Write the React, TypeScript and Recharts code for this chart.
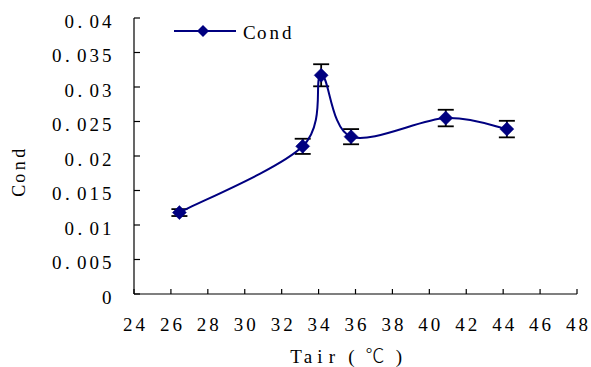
import React from "react";
import { LineChart, Line, XAxis, YAxis, ErrorBar } from "recharts";

const tair = [26.46, 33.14, 34.14, 35.76, 40.89, 44.2];
const cond = [0.0118, 0.0214, 0.0317, 0.0228, 0.0255, 0.0239];
const condErr = [0.0005, 0.0011, 0.0016, 0.0011, 0.0012, 0.0012];

const xTicks = [24, 26, 28, 30, 32, 34, 36, 38, 40, 42, 44, 46, 48];
const yTicks = [0, 0.005, 0.01, 0.015, 0.02, 0.025, 0.03, 0.035, 0.04];
const yTickLabels = ["0", "0.005", "0.01", "0.015", "0.02", "0.025", "0.03", "0.035", "0.04"];

const seriesName = "Cond";
const xTitle = "Tair(℃)";
const yTitle = "Cond";

const data = tair.map((t, i) => ({ tair: t, cond: cond[i], err: condErr[i] }));

const NAVY = "#000080";
const FONT = "'Liberation Serif', 'Noto Sans CJK SC', serif";
const FS = 19;
const PITCH = 12.5;

// Monospaced-looking text: each character placed in a fixed-width cell
const MonoText = (props: any) => {
  const { x, y, anchor = "start", text, pitch = PITCH, widths, sizes, weights, fontSize = FS, transform } = props;
  const chars = Array.from(String(text));
  const w = chars.map((c: string, i: number) => (widths && widths[i] != null ? widths[i] : pitch));
  const total = w.reduce((a: number, b: number) => a + b, 0);
  let start = anchor === "end" ? x - total : anchor === "middle" ? x - total / 2 : x;
  const xs: number[] = [];
  for (let i = 0; i < chars.length; i++) {
    const off = chars[i] === "." ? -2 : 0;
    xs.push(start + w[i] / 2 + off);
    start += w[i];
  }
  return (
    <text
      y={y}
      transform={transform}
      textAnchor="middle"
      dominantBaseline="central"
      fontFamily={FONT}
      fontSize={fontSize}
      fill="#000"
    >
      {chars.map((c: string, i: number) => (
        <tspan
          key={i}
          x={xs[i]}
          y={y}
          fontSize={sizes && sizes[i] != null ? sizes[i] : undefined}
          fontWeight={weights && weights[i] != null ? weights[i] : undefined}
        >
          {c}
        </tspan>
      ))}
    </text>
  );
};

// Excel-like smoothed curve (uniform Catmull-Rom as cubic Bezier)
const excelCurve = (ctx: any) => {
  let pts: [number, number][] = [];
  return {
    areaStart() {},
    areaEnd() {},
    lineStart() {
      pts = [];
    },
    point(x: number, y: number) {
      pts.push([+x, +y]);
    },
    lineEnd() {
      const n = pts.length;
      if (!n) return;
      ctx.moveTo(pts[0][0], pts[0][1]);
      for (let i = 0; i < n - 1; i++) {
        const p0 = pts[Math.max(i - 1, 0)];
        const p1 = pts[i];
        const p2 = pts[i + 1];
        const p3 = pts[Math.min(i + 2, n - 1)];
        ctx.bezierCurveTo(
          p1[0] + (p2[0] - p0[0]) / 6,
          p1[1] + (p2[1] - p0[1]) / 6,
          p2[0] - (p3[0] - p1[0]) / 6,
          p2[1] - (p3[1] - p1[1]) / 6,
          p2[0],
          p2[1]
        );
      }
    },
  };
};

const Diamond = (props: any) => {
  const { cx, cy } = props;
  if (cx == null || cy == null) return null;
  const w = 7, h = 7;
  return (
    <polygon
      points={`${cx - w},${cy} ${cx},${cy - h} ${cx + w},${cy} ${cx},${cy + h}`}
      fill={NAVY}
      stroke={NAVY}
      strokeWidth={0.5}
    />
  );
};

const XTick = (props: any) => {
  const { x, y, payload } = props;
  return (
    <g>
      <line x1={x} x2={x} y1={y} y2={y - 5} stroke="#000" strokeWidth={1.2} />
      <MonoText x={x} y={y + 30} anchor="middle" text={String(payload.value)} />
    </g>
  );
};

const YTick = (props: any) => {
  const { x, y, payload } = props;
  const idx = yTicks.indexOf(payload.value);
  const label = idx >= 0 ? yTickLabels[idx] : String(payload.value);
  return (
    <g>
      <line x1={x} x2={x + 6} y1={y} y2={y} stroke="#000" strokeWidth={1.2} />
      <MonoText x={x - 21} y={y + 2.5} anchor="end" text={label} />
    </g>
  );
};

export default function App() {
  return (
    <div style={{ position: "absolute", left: 0, top: 0, width: 591, height: 367, background: "#fff" }}>
      <LineChart width={591} height={367} data={data} margin={{ top: 18, right: 14, bottom: 0, left: 0 }}>
        <XAxis
          dataKey="tair"
          type="number"
          domain={[24, 48]}
          ticks={xTicks}
          interval={0}
          height={73}
          stroke="#000"
          strokeWidth={1.2}
          tickLine={false}
          tickSize={0}
          tickMargin={0}
          tick={<XTick />}
          label={() => (
            <MonoText
              x={290}
              y={356}
              text={xTitle}
              widths={[12, 12, 12, 12, 27, 20, 28]}
              sizes={[null, null, null, null, null, 19, null]}
              weights={[null, null, null, null, null, 300, null]}
            />
          )}
        />
        <YAxis
          type="number"
          domain={[0, 0.04]}
          ticks={yTicks}
          interval={0}
          width={134}
          stroke="#000"
          strokeWidth={1.2}
          tickLine={false}
          tickSize={0}
          tickMargin={0}
          tick={<YTick />}
          label={() => (
            <g transform="translate(19,172) rotate(-90)">
              <MonoText x={0} y={0} anchor="middle" text={yTitle} fontSize={18} />
            </g>
          )}
        />
        <Line
          dataKey="cond"
          name={seriesName}
          type={excelCurve as any}
          stroke={NAVY}
          strokeWidth={2}
          dot={<Diamond />}
          activeDot={false}
          isAnimationActive={false}
        >
          <ErrorBar dataKey="err" direction="y" width={8} stroke="#000" strokeWidth={1.8} />
        </Line>
      </LineChart>
      <svg width={140} height={30} style={{ position: "absolute", left: 170, top: 16 }}>
        <line x1={4} x2={66} y1={15} y2={15} stroke={NAVY} strokeWidth={2} />
        <polygon points={`${27},15 ${33},9 ${39},15 ${33},21`} fill={NAVY} />
        <MonoText x={73} y={16} text={seriesName} />
      </svg>
    </div>
  );
}
